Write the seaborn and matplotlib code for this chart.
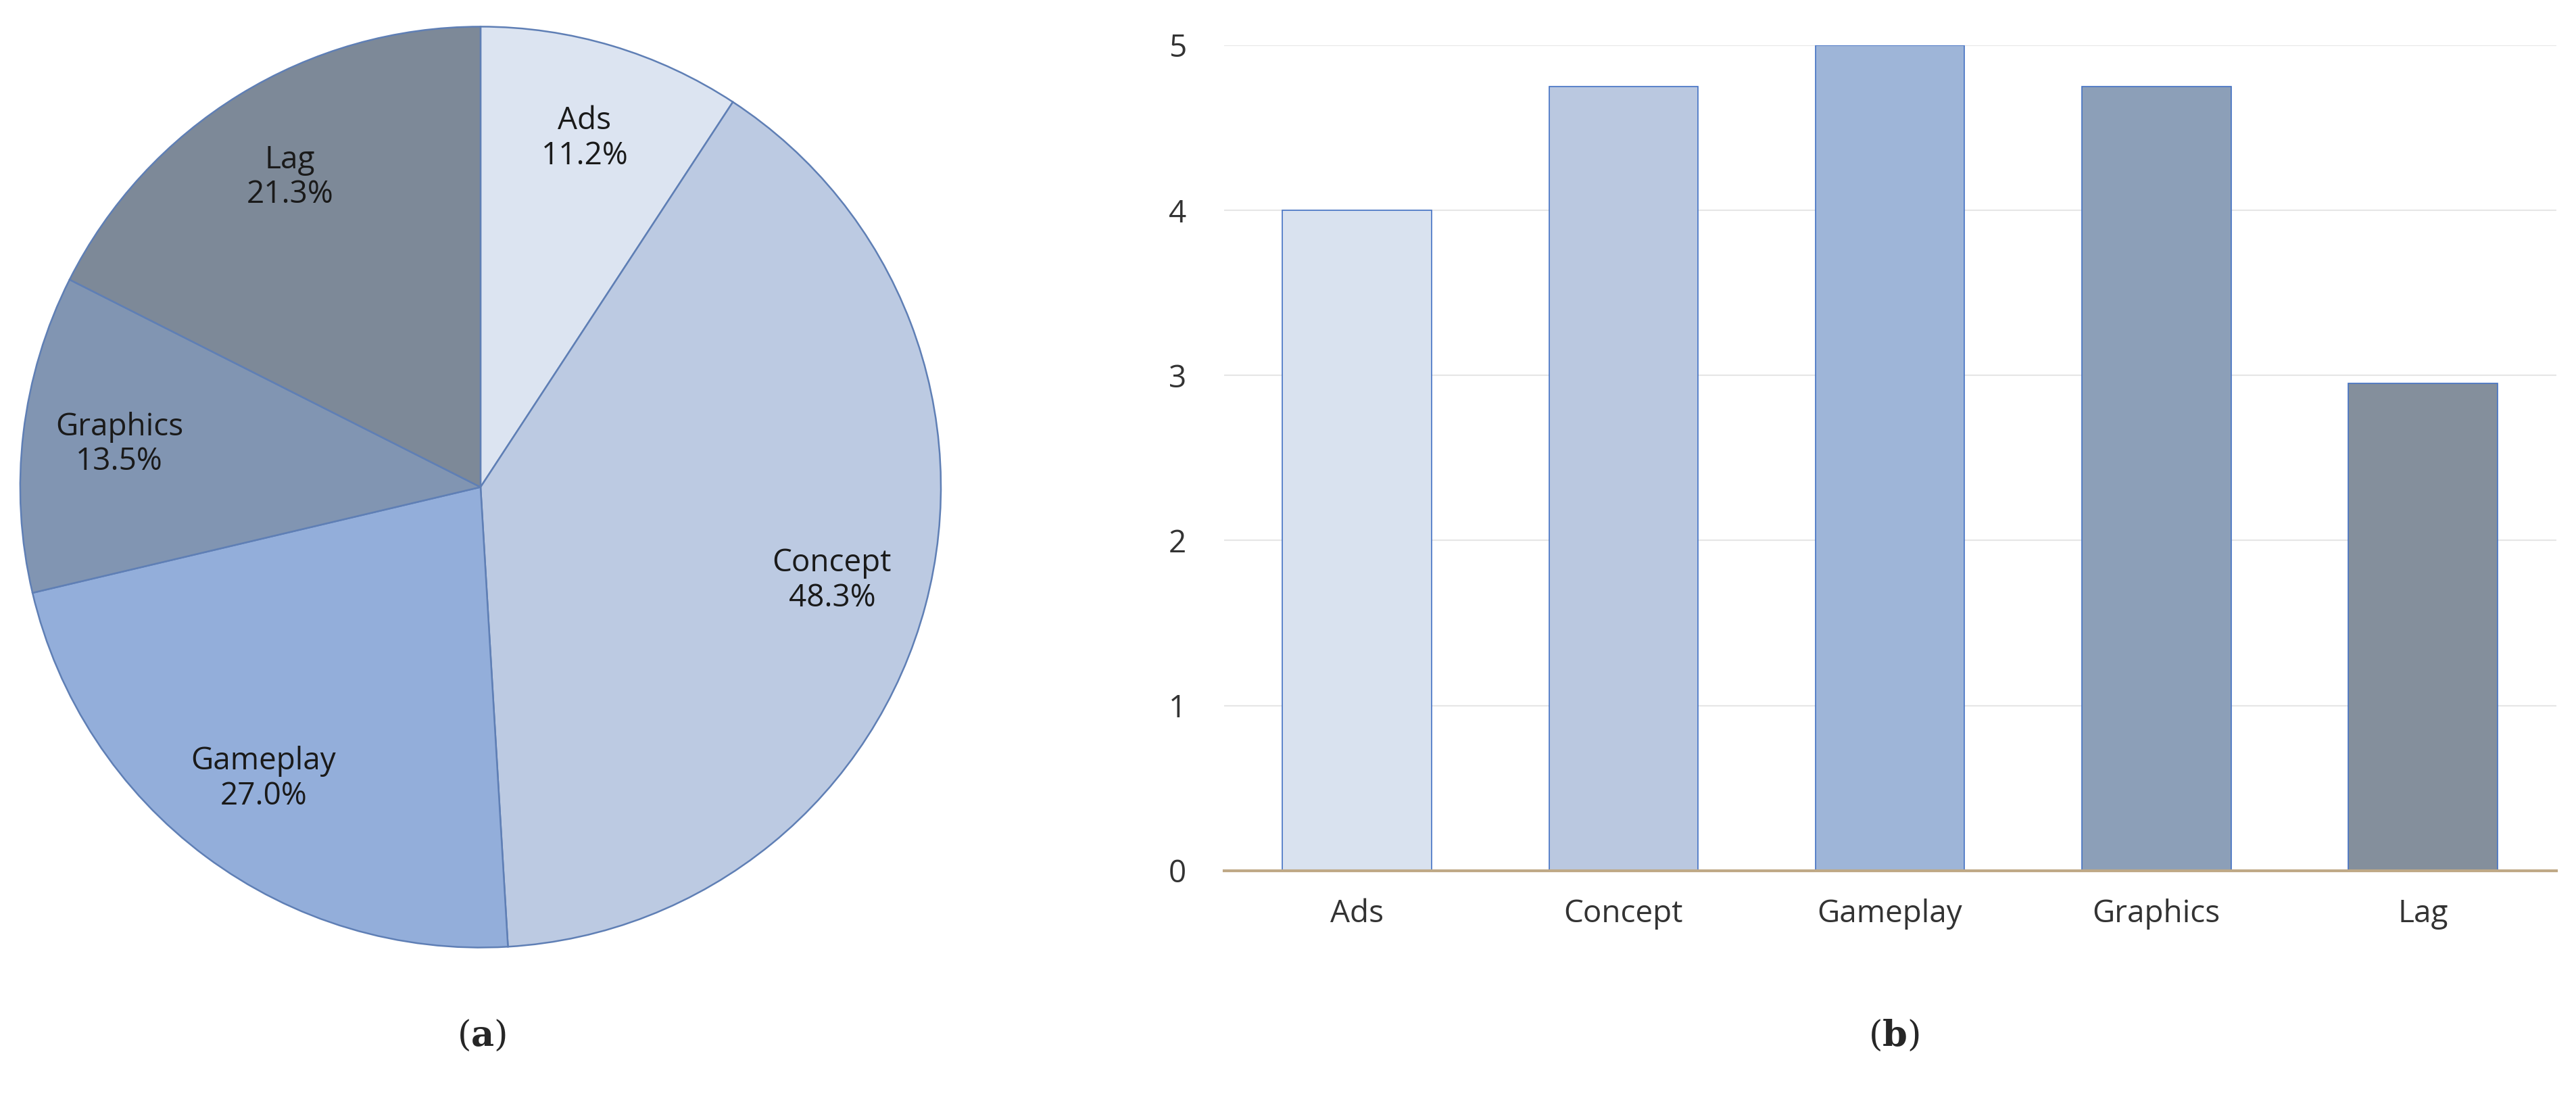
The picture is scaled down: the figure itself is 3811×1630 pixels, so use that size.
import numpy as np
import seaborn as sns
import matplotlib.pyplot as plt

# data
categories = ['Ads', 'Concept', 'Gameplay', 'Graphics', 'Lag']
pie_shares = [11.2, 48.3, 27.0, 13.5, 21.3]
bar_scores = [4.0, 4.75, 5.0, 4.75, 2.95]
pie_colors = ['#DCE4F1', '#BCCAE2', '#93AEDA', '#8195B2', '#7D8998']
bar_colors = ['#D9E2EF', '#BAC8E0', '#9EB5D8', '#8C9FB8', '#848F9C']

sns.set_style('white')
plt.rcParams['font.family'] = ['Open Sans', 'DejaVu Sans']
plt.rcParams['mathtext.fontset'] = 'dejavuserif'

fig = plt.figure(figsize=(38.12, 16.3), dpi=100)

# pie (a)
ax1 = fig.add_axes([0.006, 0.136, 0.361, 0.844])
wedges, _ = ax1.pie(pie_shares, colors=pie_colors, startangle=90, counterclock=False,
                    wedgeprops=dict(edgecolor='#5f7fb5', linewidth=1.8))
for w, cat, s in zip(wedges, categories, pie_shares):
    ang = np.deg2rad((w.theta1 + w.theta2) / 2)
    ax1.text(0.79 * np.cos(ang), 0.79 * np.sin(ang), f'{cat}\n{s:.1f}%',
             ha='center', va='center', fontsize=33, color='#1a1a1a', linespacing=1.15)
ax1.set_aspect('equal')
ax1.set_xlim(-1.01, 1.01)
ax1.set_ylim(-1.01, 1.01)

# bars (b)
ax2 = fig.add_axes([0.475, 0.21, 0.517, 0.749])
sns.barplot(x=categories, y=bar_scores, hue=categories, palette=bar_colors, saturation=1,
            legend=False, width=0.56, edgecolor='#4472C4', linewidth=1.2, ax=ax2)
ax2.set_ylim(0, 5)
ax2.set_yticks(range(6))
ax2.yaxis.grid(True, color='#e6e6e6', linewidth=1.5)
ax2.set_axisbelow(True)
for side in ['top', 'right', 'left']:
    ax2.spines[side].set_visible(False)
ax2.spines['bottom'].set_color('#BFA986')
ax2.spines['bottom'].set_linewidth(3)
ax2.tick_params(axis='both', labelsize=33, length=0, colors='#333333')
ax2.tick_params(axis='x', pad=30)
ax2.tick_params(axis='y', pad=40)
ax2.set_xlim(-0.5, 4.5)

fig.text(0.187, 0.06, r'($\mathbf{a}$)', ha='center', va='center', fontsize=38, family='DejaVu Serif')
fig.text(0.735, 0.06, r'($\mathbf{b}$)', ha='center', va='center', fontsize=38, family='DejaVu Serif')

fig.savefig('out.png', dpi=100)
